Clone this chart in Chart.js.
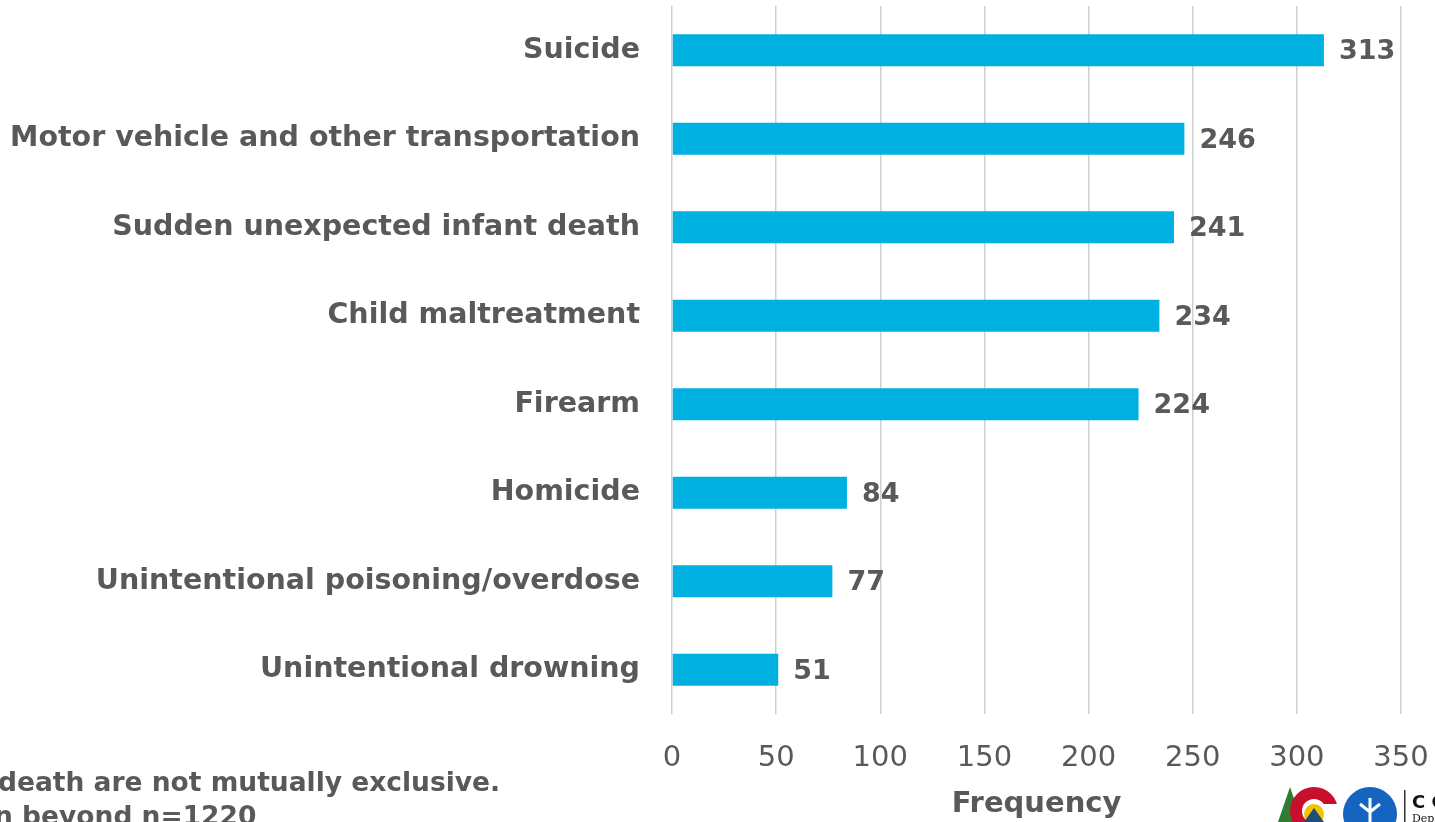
<!DOCTYPE html>
<html>
<head>
<meta charset="utf-8">
<script src="https://cdn.jsdelivr.net/npm/chart.js@4"></script>
<style>
  html, body { margin: 0; padding: 0; background: #fff; overflow: hidden; }
  #wrap { position: relative; width: 1435px; height: 822px; overflow: hidden; }
  .note { position: absolute; font-family: "DejaVu Sans", sans-serif; font-weight: bold; font-size: 26.5px; color: #595959; white-space: nowrap; }
  #logo { position: absolute; left: 1270px; top: 784px; }
</style>
</head>
<body>
<div id="wrap">
  <canvas id="chart" width="1435" height="822"></canvas>
  <div class="note" style="left:-2px; top:766px;">death are not mutually exclusive.</div>
  <div class="note" style="left:-6px; top:800px;">n beyond n=1220</div>
  <!-- rough stand-in for the partner logos in the corner -->
  <svg id="logo" width="165" height="38" viewBox="0 0 165 38">
    <polygon points="20,3 8,38 32,38" fill="#2e7d32"/>
    <circle cx="44" cy="27" r="24" fill="#c8102e"/>
    <circle cx="44" cy="27" r="12" fill="#fff"/>
    <rect x="52" y="20" width="20" height="18" fill="#fff"/>
    <circle cx="44" cy="30" r="10" fill="#f4c300"/>
    <polygon points="34,38 44,24 54,38" fill="#1f4e79"/>
    <circle cx="100" cy="30" r="27" fill="#1565c0"/>
    <path d="M100 14 L100 38 M90 20 L100 28 L110 20" stroke="#fff" stroke-width="3" fill="none"/>
    <rect x="134" y="6" width="1.5" height="32" fill="#333"/>
    <text x="142" y="24" font-family="DejaVu Sans" font-weight="bold" font-size="18" fill="#111">C C</text>
    <text x="142" y="38" font-family="DejaVu Serif" font-size="11" fill="#111">Dep</text>
  </svg>
</div>
<script>
// Causes of death, sorted largest first
const CATEGORIES = [
  'Suicide',
  'Motor vehicle and other transportation',
  'Sudden unexpected infant death',
  'Child maltreatment',
  'Firearm',
  'Homicide',
  'Unintentional poisoning/overdose',
  'Unintentional drowning'
];
const FREQUENCY = [313, 246, 241, 234, 224, 84, 77, 51];
const X_TICKS = [0, 50, 100, 150, 200, 250, 300, 350];

const GREY = '#595959';
const FONT = '"DejaVu Sans", sans-serif';

// draws the value after the end of each bar
const barValues = {
  id: 'barValues',
  afterDatasetsDraw(chart) {
    const ctx = chart.ctx;
    const meta = chart.getDatasetMeta(0);
    ctx.save();
    ctx.font = 'bold 27px ' + FONT;
    ctx.fillStyle = GREY;
    ctx.textAlign = 'left';
    ctx.textBaseline = 'middle';
    meta.data.forEach((bar, i) => {
      ctx.fillText(String(FREQUENCY[i]), bar.x + 15, bar.y + 2);
    });
    ctx.restore();
  }
};

new Chart(document.getElementById('chart'), {
  type: 'bar',
  data: {
    labels: CATEGORIES,
    datasets: [{
      data: FREQUENCY,
      backgroundColor: '#00b0e0',
      borderWidth: 0,
      categoryPercentage: 1,
      barPercentage: 0.36
    }]
  },
  options: {
    indexAxis: 'y',
    responsive: false,
    animation: false,
    layout: { padding: { top: 6, right: 34, bottom: 0, left: 0 } },
    plugins: { legend: { display: false }, tooltip: { enabled: false } },
    scales: {
      x: {
        min: 0,
        max: 350,
        afterBuildTicks: (scale) => { scale.ticks = X_TICKS.map(v => ({ value: v })); },
        afterFit: (scale) => {
          scale.height = 108;
          scale.paddingLeft = 0;
          scale.paddingRight = 0;
        },
        grid: { color: '#cfcfcf', lineWidth: 1.5, drawTicks: false },
        border: { display: false },
        ticks: { color: GREY, padding: 27, font: { family: FONT, size: 29 } },
        title: {
          display: true,
          text: 'Frequency',
          color: GREY,
          font: { family: FONT, size: 29, weight: 'bold' },
          padding: { top: 0, bottom: 0 }
        }
      },
      y: {
        afterFit: (scale) => {
          scale.width = 672;
          scale.paddingTop = 0;
          scale.paddingBottom = 0;
        },
        grid: { display: false },
        border: { display: false },
        ticks: { color: GREY, padding: 24, font: { family: FONT, size: 28.5, weight: 'bold' } }
      }
    }
  },
  plugins: [barValues]
});
</script>
</body>
</html>
